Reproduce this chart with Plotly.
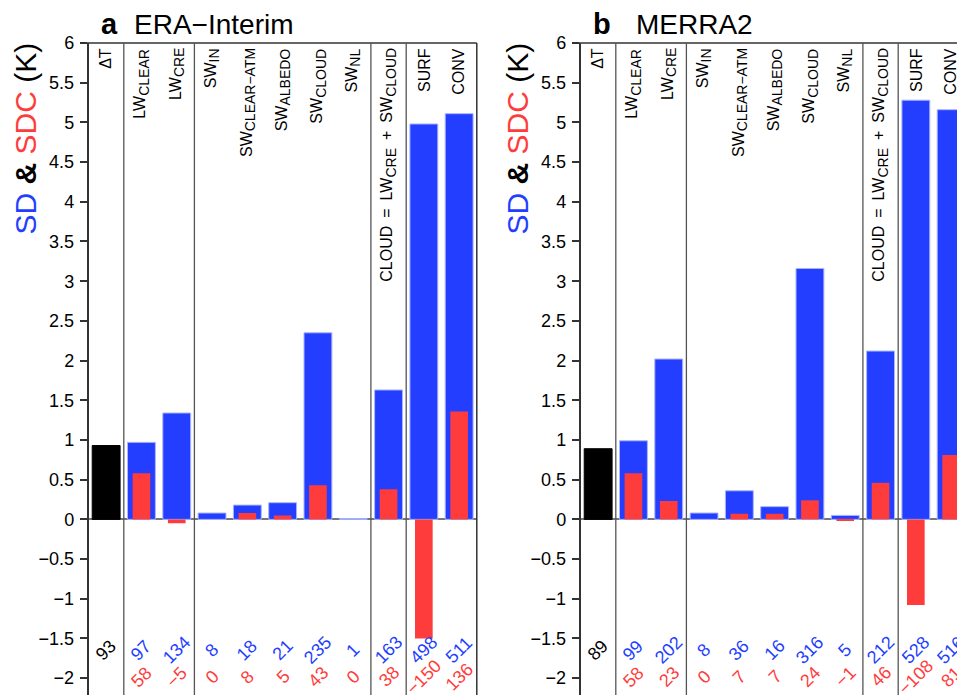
import plotly.graph_objects as go

# ---------------- data ----------------
SUBF = "<sub><span style='font-size:14px'>{}</span></sub>"
categories = ["ΔT", "LW" + SUBF.format("CLEAR"), "LW" + SUBF.format("CRE"),
              "SW" + SUBF.format("IN"), "SW" + SUBF.format("CLEAR−ATM"),
              "SW" + SUBF.format("ALBEDO"), "SW" + SUBF.format("CLOUD"),
              "SW" + SUBF.format("NL"),
              "CLOUD\u2002=\u2002LW" + SUBF.format("CRE") + "\u2002+\u2002SW" + SUBF.format("CLOUD"),
              "SURF", "CONV"]
era_sd = [0.93, 0.97, 1.34, 0.08, 0.18, 0.21, 2.35, 0.01, 1.63, 4.98, 5.11]
era_sdc = [None, 0.58, -0.05, 0.00, 0.08, 0.05, 0.43, 0.00, 0.38, -1.50, 1.36]
merra_sd = [0.89, 0.99, 2.02, 0.08, 0.36, 0.16, 3.16, 0.05, 2.12, 5.28, 5.16]
merra_sdc = [None, 0.58, 0.23, 0.00, 0.07, 0.07, 0.24, -0.01, 0.46, -1.08, 0.81]
panel_letters = ["a", "b"]
panel_names = ["ERA−Interim", "MERRA2"]
tick_vals = [6, 5.5, 5, 4.5, 4, 3.5, 3, 2.5, 2, 1.5, 1, 0.5, 0, -0.5, -1, -1.5, -2]
tick_text = ["6", "5.5", "5", "4.5", "4", "3.5", "3", "2.5", "2", "1.5", "1", "0.5",
             "0", "−0.5", "−1", "−1.5", "−2"]
separators = [0.5, 2.5, 7.5, 8.5]

# ---------------- geometry / style ----------------
PAGE_W, PAGE_H = 965, 695
OFF = 8                       # default page body margin
W, H = PAGE_W - OFF, PAGE_H - OFF


def px(xp):
    return (xp - OFF) / W


def py(yp):
    return 1 - (yp - OFF) / H


BLUE = "#233EFF"
RED = "#FF3C3C"
FONT = "Liberation Sans"
AXC = "#333333"
SEPC = "#555555"
step = 35.3
left_px = [88.5, 580.5]
top_page = 43
YR = [-2.212, 6]
ytop = py(top_page)

fig = go.Figure()
annotations = []
shapes = []

panels = [(era_sd, era_sdc), (merra_sd, merra_sdc)]
for p, (sd, sdc) in enumerate(panels):
    xa = "x" if p == 0 else "x2"
    ya = "y" if p == 0 else "y2"
    xs = list(range(len(categories)))
    x0 = left_px[p]
    x1 = min(x0 + step * len(categories), PAGE_W)
    xmax = -0.5 + (x1 - x0) / step
    dom = [px(x0), px(x1)]
    colors = ["black"] + [BLUE] * (len(sd) - 1)
    fig.add_trace(go.Bar(x=xs, y=sd, width=0.79, marker=dict(color=colors,
                  line=dict(color=["black"] + ["#A9B5FF"] * (len(sd) - 1), width=1)),
                  xaxis=xa, yaxis=ya, showlegend=False, hoverinfo="skip"))
    fig.add_trace(go.Bar(x=xs, y=sdc, width=0.5, marker=dict(color=RED, line=dict(width=0)),
                  xaxis=xa, yaxis=ya, showlegend=False, hoverinfo="skip"))

    xkey = "xaxis" if p == 0 else "xaxis2"
    ykey = "yaxis" if p == 0 else "yaxis2"
    fig.update_layout(**{
        xkey: dict(domain=dom, range=[-0.5, xmax], visible=False, anchor=ya,
                   automargin=False),
        ykey: dict(domain=[0, ytop], range=YR, anchor=xa, tickvals=tick_vals,
                   ticktext=tick_text, ticks="outside", ticklen=7, tickwidth=1.5,
                   tickcolor=AXC, showline=True, linecolor=AXC, linewidth=1.5,
                   showgrid=False, zeroline=True, zerolinecolor="#777777",
                   zerolinewidth=1.5, tickfont=dict(family=FONT, size=18, color="black"),
                   ticklabelstandoff=2, automargin=False),
    })

    # frame: top line and (left panel) right border
    shapes.append(dict(type="line", xref="paper", yref="paper", x0=px(x0 - 7), x1=px(x1),
                       y0=ytop, y1=ytop, line=dict(color=AXC, width=1.5)))
    if x1 < PAGE_W:
        shapes.append(dict(type="line", xref="paper", yref="paper", x0=px(x1), x1=px(x1),
                           y0=0, y1=ytop, line=dict(color=AXC, width=1.5)))
    for s in separators:
        shapes.append(dict(type="line", xref=xa, yref="paper", x0=s, x1=s, y0=0, y1=ytop,
                           line=dict(color=SEPC, width=1.3)))

    # category labels
    for i, c in enumerate(categories):
        annotations.append(dict(x=i, y=5.96, xref=xa, yref=ya, text=c, textangle=-90,
                                xanchor="center", yanchor="top", showarrow=False,
                                font=dict(family=FONT, size=16, color="black")))
    # number labels
    for i in range(len(categories)):
        col = "black" if i == 0 else BLUE
        annotations.append(dict(x=i, y=-1.65, xref=xa, yref=ya,
                                text=str(round(sd[i] * 100)), textangle=-45,
                                xanchor="center", yanchor="middle", showarrow=False,
                                font=dict(family=FONT, size=18, color=col)))
        if sdc[i] is not None:
            v = round(sdc[i] * 100)
            t = ("−" + str(-v)) if v < 0 else str(v)
            annotations.append(dict(x=i, y=-1.98, xref=xa, yref=ya, text=t, textangle=-45,
                                    xanchor="center", yanchor="middle", showarrow=False,
                                    font=dict(family=FONT, size=18, color=RED)))

    # panel title
    lx = x0 + 10
    annotations.append(dict(x=px(lx), y=py(42), xref="paper", yref="paper",
                            text="<b>" + panel_letters[p] + "</b>", xanchor="left",
                            yanchor="bottom", showarrow=False,
                            font=dict(family=FONT, size=29, color="black")))
    annotations.append(dict(x=px(lx + (33 if p == 0 else 43)), y=py(42), xref="paper",
                            yref="paper", text=panel_names[p], xanchor="left",
                            yanchor="bottom", showarrow=False,
                            font=dict(family=FONT, size=28, color="black")))
    # y title
    annotations.append(dict(x=px(x0 - 64), y=py(41), xref="paper", yref="paper",
                            text=("<span style='color:" + BLUE + "'>SD</span> <b>&amp;</b> "
                                  "<span style='color:" + RED + "'>SDC</span> (K)"),
                            textangle=-90, xanchor="center", yanchor="top",
                            showarrow=False, font=dict(family=FONT, size=30, color="black")))

fig.update_layout(width=W, height=H, autosize=False, barmode="overlay",
                  margin=dict(l=0, r=0, t=0, b=0, autoexpand=False),
                  paper_bgcolor="white", plot_bgcolor="white",
                  annotations=annotations, shapes=shapes, showlegend=False)

fig.write_html("out.html")
